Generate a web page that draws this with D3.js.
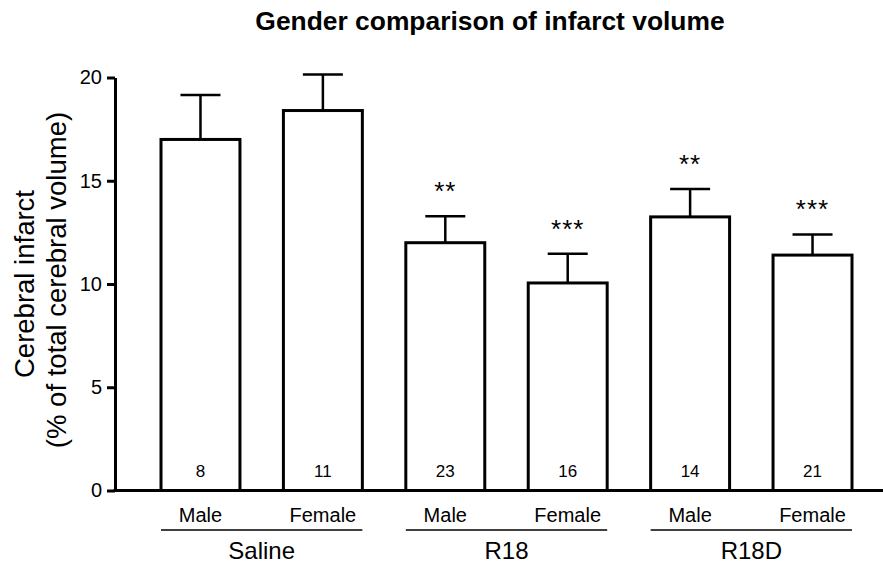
<!DOCTYPE html>
<html>
<head>
<meta charset="utf-8">
<script src="https://cdn.jsdelivr.net/npm/d3@7"></script>
<style>
  body { margin: 0; background: #fff; }
  text { font-family: "Liberation Sans", Arial, sans-serif; fill: #000; }
</style>
</head>
<body>
<div id="chart"></div>
<script>
const groups = ['Saline', 'R18', 'R18D'];
const sexes = ['Male', 'Female', 'Male', 'Female', 'Male', 'Female'];
const means = [17.0, 18.4, 12.0, 10.05, 13.25, 11.4];
const sems = [2.15, 1.75, 1.28, 1.42, 1.35, 1.0];
const counts = ['8', '11', '23', '16', '14', '21'];
const stars = ['', '', '**', '***', '**', '***'];
const yTicks = [0, 5, 10, 15, 20];

const width = 883;
const height = 565;

const svg = d3.select('#chart')
    .append('svg')
    .attr('width', width)
    .attr('height', height);

const x = d3.scaleBand()
    .domain(d3.range(means.length))
    .range([161, 852])
    .paddingInner(0.355)
    .paddingOuter(0);

const y = d3.scaleLinear()
    .domain([0, 20])
    .range([490.5, 77.5]);

// title
svg.append('text')
    .attr('x', 490)
    .attr('y', 30)
    .attr('text-anchor', 'middle')
    .attr('font-size', 26.4)
    .attr('font-weight', 'bold')
    .text('Gender comparison of infarct volume');

// y axis label, two lines
svg.append('text')
    .attr('transform', 'translate(34, 284) rotate(-90)')
    .attr('text-anchor', 'middle')
    .attr('font-size', 27.5)
    .text('Cerebral infarct');

svg.append('text')
    .attr('transform', 'translate(66, 280) rotate(-90)')
    .attr('text-anchor', 'middle')
    .attr('font-size', 27.5)
    .text('(% of total cerebral volume)');

// bars
const bar = svg.selectAll('.bar')
    .data(means)
    .enter()
    .append('g')
    .attr('class', 'bar');

bar.append('rect')
    .attr('x', (d, i) => x(i))
    .attr('y', d => y(d))
    .attr('width', x.bandwidth())
    .attr('height', d => y(0) - y(d))
    .attr('fill', '#fff')
    .attr('stroke', '#000')
    .attr('stroke-width', 3);

// error bars (upper only)
const capHalf = 20;
bar.append('line')
    .attr('x1', (d, i) => x(i) + x.bandwidth() / 2)
    .attr('x2', (d, i) => x(i) + x.bandwidth() / 2)
    .attr('y1', d => y(d))
    .attr('y2', (d, i) => y(d + sems[i]))
    .attr('stroke', '#000')
    .attr('stroke-width', 2.5);

bar.append('line')
    .attr('x1', (d, i) => x(i) + x.bandwidth() / 2 - capHalf)
    .attr('x2', (d, i) => x(i) + x.bandwidth() / 2 + capHalf)
    .attr('y1', (d, i) => y(d + sems[i]))
    .attr('y2', (d, i) => y(d + sems[i]))
    .attr('stroke', '#000')
    .attr('stroke-width', 2.5);

// significance stars
bar.append('text')
    .attr('x', (d, i) => x(i) + x.bandwidth() / 2)
    .attr('y', (d, i) => y(d + sems[i]) - 16)
    .attr('text-anchor', 'middle')
    .attr('font-size', 26)
    .attr('letter-spacing', 1)
    .text((d, i) => stars[i]);

// n per bar
bar.append('text')
    .attr('x', (d, i) => x(i) + x.bandwidth() / 2)
    .attr('y', 477)
    .attr('text-anchor', 'middle')
    .attr('font-size', 17)
    .text((d, i) => counts[i]);

// axes
const yAxis = svg.append('g')
    .attr('transform', 'translate(115, 0)')
    .call(d3.axisLeft(y).tickValues(yTicks).tickSize(8).tickSizeOuter(0).tickPadding(5));

yAxis.select('.domain').attr('stroke-width', 3);
yAxis.selectAll('.tick line').attr('stroke-width', 3);
yAxis.selectAll('.tick text')
    .attr('font-size', 20)
    .attr('font-family', '"Liberation Sans", Arial, sans-serif');

svg.append('line')
    .attr('x1', 113.5)
    .attr('x2', width)
    .attr('y1', y(0))
    .attr('y2', y(0))
    .attr('stroke', '#000')
    .attr('stroke-width', 3);

// sex labels
svg.selectAll('.sex')
    .data(sexes)
    .enter()
    .append('text')
    .attr('class', 'sex')
    .attr('x', (d, i) => x(i) + x.bandwidth() / 2)
    .attr('y', 522)
    .attr('text-anchor', 'middle')
    .attr('font-size', 20)
    .text(d => d);

// group lines and labels
const grp = svg.selectAll('.group')
    .data(groups)
    .enter()
    .append('g')
    .attr('class', 'group');

grp.append('line')
    .attr('x1', (d, i) => x(i * 2))
    .attr('x2', (d, i) => x(i * 2 + 1) + x.bandwidth())
    .attr('y1', 530)
    .attr('y2', 530)
    .attr('stroke', '#000')
    .attr('stroke-width', 1.5);

grp.append('text')
    .attr('x', (d, i) => (x(i * 2) + x(i * 2 + 1) + x.bandwidth()) / 2)
    .attr('y', 559)
    .attr('text-anchor', 'middle')
    .attr('font-size', 24)
    .text(d => d);
</script>
</body>
</html>
